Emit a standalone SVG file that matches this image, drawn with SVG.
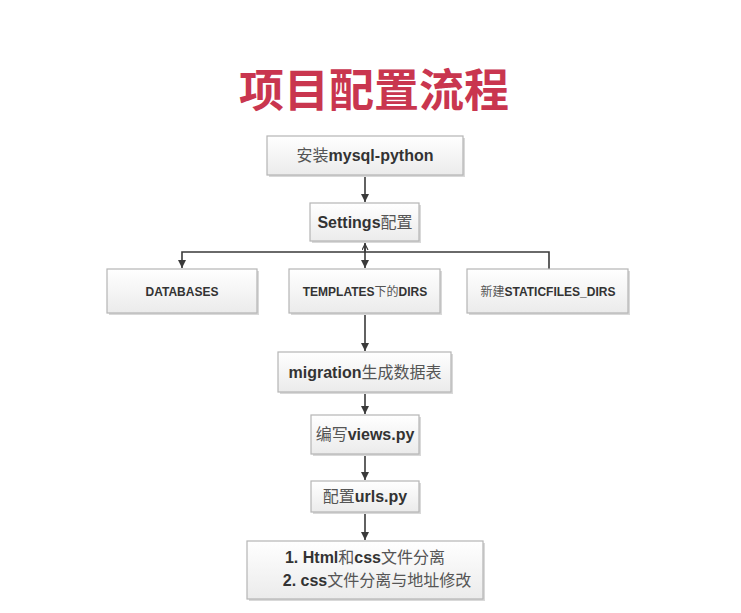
<svg xmlns="http://www.w3.org/2000/svg" width="741" height="613" viewBox="0 0 741 613">
<defs>
<linearGradient id="g" x1="0" y1="0" x2="0" y2="1">
<stop offset="0" stop-color="#ffffff"/>
<stop offset="1" stop-color="#ebebeb"/>
</linearGradient>
<marker id="ah" markerUnits="userSpaceOnUse" markerWidth="9" markerHeight="9" refX="8" refY="4" orient="auto">
<path d="M0,0 L8,4 L0,8 z" fill="#3a3a3a"/>
</marker>
<marker id="sm" markerUnits="userSpaceOnUse" markerWidth="8" markerHeight="8" refX="6" refY="3" orient="auto">
<path d="M0,0 L6,3 L0,6" fill="none" stroke="#3a3a3a" stroke-width="1.2"/>
</marker>
</defs>
<style>
.box{fill:url(#g);stroke:#b5b5b5;stroke-width:1.2}
.sh{fill:#d9d9d9}
.t{font-family:"Liberation Sans","Noto Sans CJK SC",sans-serif;fill:#333;text-anchor:middle}
.b{font-weight:bold}
.c{font-family:"Noto Sans CJK SC",sans-serif;fill:#555;font-weight:normal}
.f16{font-size:16px}
.f12{font-size:12px}
.ln{fill:none;stroke:#3a3a3a;stroke-width:1.6}
</style>
<rect width="741" height="613" fill="#ffffff"/>
<text x="374" y="107" font-family="'Noto Sans CJK SC',sans-serif" font-size="45" font-weight="bold" fill="#c9364f" text-anchor="middle">项目配置流程</text>
<g id="connectors">
<path class="ln" d="M365,175 V202" marker-end="url(#ah)"/>
<path class="ln" d="M365,241 V252 H182 V268" marker-end="url(#ah)"/>
<path class="ln" d="M365,252 V268" marker-end="url(#ah)"/>
<path class="ln" d="M549,269 V252 H365 V244" marker-end="url(#sm)"/>
<path class="ln" d="M365,313 V351" marker-end="url(#ah)"/>
<path class="ln" d="M365,392 V414" marker-end="url(#ah)"/>
<path class="ln" d="M365,454 V480" marker-end="url(#ah)"/>
<path class="ln" d="M365,512 V540" marker-end="url(#ah)"/>
</g>
<g id="n1"><rect class="sh" x="269" y="138" width="196" height="39"/><rect class="box" x="267" y="136" width="196" height="39"/>
<text class="t f16" x="365" y="161"><tspan class="c">安装</tspan><tspan class="b">mysql-python</tspan></text></g>
<g id="n2"><rect class="sh" x="312" y="205" width="109" height="38"/><rect class="box" x="310" y="203" width="109" height="38"/>
<text class="t f16" x="365" y="228"><tspan class="b">Settings</tspan><tspan class="c">配置</tspan></text></g>
<g id="n3"><rect class="sh" x="109" y="271" width="150" height="44"/><rect class="box" x="107" y="269" width="150" height="44"/>
<text class="t f12 b" x="182" y="296">DATABASES</text></g>
<g id="n4"><rect class="sh" x="291" y="271" width="151" height="44"/><rect class="box" x="289" y="269" width="151" height="44"/>
<text class="t f12" x="365" y="296"><tspan class="b">TEMPLATES</tspan><tspan class="c">下的</tspan><tspan class="b">DIRS</tspan></text></g>
<g id="n5"><rect class="sh" x="469" y="271" width="161" height="44"/><rect class="box" x="467" y="269" width="161" height="44"/>
<text class="t f12" x="548" y="296"><tspan class="c">新建</tspan><tspan class="b">STATICFILES_DIRS</tspan></text></g>
<g id="n6"><rect class="sh" x="280" y="354" width="173" height="40"/><rect class="box" x="278" y="352" width="173" height="40"/>
<text class="t f16" x="365" y="378"><tspan class="b">migration</tspan><tspan class="c">生成数据表</tspan></text></g>
<g id="n7"><rect class="sh" x="313" y="417" width="108" height="39"/><rect class="box" x="311" y="415" width="108" height="39"/>
<text class="t f16" x="365" y="440"><tspan class="c">编写</tspan><tspan class="b">views.py</tspan></text></g>
<g id="n8"><rect class="sh" x="313" y="483" width="108" height="31"/><rect class="box" x="311" y="481" width="108" height="31"/>
<text class="t f16" x="365" y="502"><tspan class="c">配置</tspan><tspan class="b">urls.py</tspan></text></g>
<g id="n9"><rect class="sh" x="249" y="543" width="236" height="58"/><rect class="box" x="247" y="541" width="236" height="58"/>
<text class="t f16" x="365" y="563"><tspan class="b">1. Html</tspan><tspan class="c">和</tspan><tspan class="b">css</tspan><tspan class="c">文件分离</tspan></text>
<text class="t f16" x="377" y="586"><tspan class="b">2. css</tspan><tspan class="c">文件分离与地址修改</tspan></text></g>
</svg>
